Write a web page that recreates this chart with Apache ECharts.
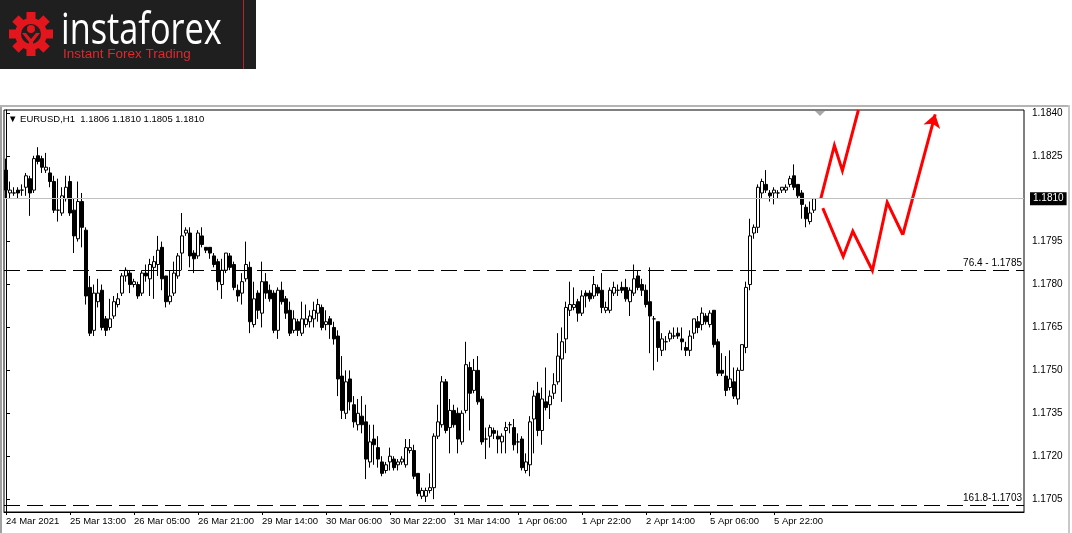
<!DOCTYPE html>
<html><head><meta charset="utf-8">
<script src="https://cdn.jsdelivr.net/npm/echarts@6/dist/echarts.min.js"></script>
<style>html,body{margin:0;padding:0;background:#fff;}#c{width:1072px;height:533px;}</style>
</head><body><div id="c"></div>
<script>
const symbolName = 'EURUSD,H1';
const opens = [
1.1820,1.1812,1.1812,1.1813,1.1813,1.1814,1.1817,1.1813,1.1825,1.1824,
1.1820,1.1819,1.1816,1.1806,1.1805,1.1810,1.1816,1.1806,1.1796,1.1809,
1.1799,1.1779,1.1764,1.1774,1.1778,1.1768,1.1765,1.1769,1.1773,1.1777,
1.1783,1.1784,1.1780,1.1780,1.1777,1.1784,1.1782,1.1786,1.1787,1.1793,
1.1783,1.1774,1.1777,1.1783,1.1791,1.1798,1.1798,1.1791,1.1790,1.1797,
1.1793,1.1793,1.1790,1.1788,1.1780,1.1785,1.1790,1.1787,1.1778,1.1777,
1.1782,1.1786,1.1766,1.1777,1.1770,1.1781,1.1778,1.1777,1.1764,1.1778,
1.1775,1.1771,1.1764,1.1767,1.1763,1.1766,1.1767,1.1768,1.1770,1.1772,
1.1766,1.1768,1.1765,1.1762,1.1748,1.1735,1.1747,1.1738,1.1731,1.1734,
1.1732,1.1718,1.1726,1.1723,1.1718,1.1715,1.1718,1.1719,1.1717,1.1718,
1.1717,1.1722,1.1722,1.1714,1.1706,1.1706,1.1708,1.1709,1.1727,1.1731,
1.1746,1.1730,1.1736,1.1735,1.1725,1.1736,1.1751,1.1743,1.1750,1.1740,
1.1726,1.1727,1.1729,1.1727,1.1725,1.1729,1.1731,1.1730,1.1725,1.1726,
1.1715,1.1717,1.1733,1.1742,1.1729,1.1739,1.1738,1.1742,1.1746,1.1754,
1.1761,1.1771,1.1772,1.1774,1.1770,1.1777,1.1777,1.1776,1.1779,1.1778,
1.1771,1.1771,1.1777,1.1778,1.1779,1.1779,1.1774,1.1777,1.1783,1.1780,
1.1778,1.1774,1.1768,1.1767,1.1757,1.1760,1.1761,1.1762,1.1763,1.1761,
1.1758,1.1757,1.1763,1.1767,1.1766,1.1769,1.1766,1.1771,1.1760,1.1750,
1.1748,1.1744,1.1746,1.1740,1.1750,1.1758,1.1780,1.1798,1.1800,1.1812,
1.1815,1.1812,1.1812,1.1812,1.1813,1.1813,1.1815,1.1818,1.1815,1.1812,
1.1807,1.1802,1.1806];
const highs = [
1.1824,1.1816,1.1814,1.1814,1.1815,1.1819,1.1818,1.1825,1.1828,1.1825,
1.1826,1.1821,1.1818,1.1817,1.1814,1.1818,1.1818,1.1810,1.1816,1.1812,
1.1800,1.1783,1.1780,1.1782,1.1780,1.1769,1.1775,1.1776,1.1777,1.1784,
1.1786,1.1785,1.1782,1.1781,1.1785,1.1787,1.1789,1.1790,1.1797,1.1795,
1.1783,1.1785,1.1788,1.1791,1.1805,1.1800,1.1800,1.1792,1.1799,1.1800,
1.1793,1.1793,1.1791,1.1789,1.1789,1.1791,1.1791,1.1788,1.1780,1.1784,
1.1795,1.1788,1.1781,1.1778,1.1788,1.1784,1.1780,1.1778,1.1779,1.1781,
1.1776,1.1774,1.1771,1.1768,1.1774,1.1773,1.1771,1.1774,1.1775,1.1773,
1.1771,1.1769,1.1767,1.1764,1.1755,1.1750,1.1750,1.1741,1.1740,1.1741,
1.1738,1.1731,1.1731,1.1727,1.1720,1.1718,1.1723,1.1720,1.1719,1.1720,
1.1726,1.1726,1.1724,1.1714,1.1709,1.1709,1.1714,1.1728,1.1738,1.1748,
1.1747,1.1740,1.1738,1.1737,1.1736,1.1760,1.1753,1.1754,1.1755,1.1741,
1.1730,1.1731,1.1730,1.1729,1.1728,1.1732,1.1732,1.1733,1.1728,1.1727,
1.1721,1.1734,1.1743,1.1746,1.1744,1.1751,1.1743,1.1749,1.1763,1.1765,
1.1774,1.1781,1.1779,1.1775,1.1778,1.1778,1.1778,1.1783,1.1780,1.1784,
1.1774,1.1779,1.1781,1.1780,1.1781,1.1782,1.1779,1.1787,1.1785,1.1782,
1.1780,1.1786,1.1769,1.1767,1.1763,1.1762,1.1764,1.1765,1.1765,1.1765,
1.1760,1.1764,1.1768,1.1769,1.1772,1.1770,1.1771,1.1771,1.1761,1.1756,
1.1755,1.1757,1.1751,1.1751,1.1759,1.1781,1.1803,1.1801,1.1815,1.1817,
1.1820,1.1813,1.1814,1.1813,1.1814,1.1815,1.1818,1.1822,1.1815,1.1813,
1.1808,1.1809,1.1810];
const lows = [
1.1810,1.1810,1.1811,1.1810,1.1811,1.1811,1.1804,1.1812,1.1822,1.1819,
1.1819,1.1814,1.1805,1.1802,1.1804,1.1809,1.1804,1.1791,1.1795,1.1793,
1.1773,1.1762,1.1762,1.1772,1.1764,1.1762,1.1764,1.1768,1.1772,1.1776,
1.1781,1.1777,1.1779,1.1775,1.1776,1.1781,1.1776,1.1775,1.1783,1.1778,
1.1772,1.1773,1.1776,1.1782,1.1785,1.1797,1.1786,1.1784,1.1789,1.1793,
1.1791,1.1789,1.1786,1.1778,1.1775,1.1784,1.1785,1.1778,1.1774,1.1773,
1.1781,1.1763,1.1765,1.1768,1.1765,1.1775,1.1774,1.1763,1.1761,1.1773,
1.1768,1.1762,1.1763,1.1762,1.1762,1.1765,1.1765,1.1765,1.1767,1.1764,
1.1764,1.1761,1.1759,1.1741,1.1733,1.1733,1.1736,1.1730,1.1729,1.1728,
1.1712,1.1716,1.1717,1.1716,1.1713,1.1714,1.1715,1.1715,1.1715,1.1717,
1.1716,1.1721,1.1712,1.1706,1.1705,1.1704,1.1707,1.1705,1.1726,1.1730,
1.1728,1.1721,1.1730,1.1721,1.1724,1.1735,1.1729,1.1742,1.1738,1.1724,
1.1719,1.1723,1.1726,1.1721,1.1721,1.1721,1.1728,1.1722,1.1721,1.1715,
1.1714,1.1713,1.1721,1.1727,1.1724,1.1736,1.1733,1.1740,1.1745,1.1739,
1.1756,1.1769,1.1771,1.1767,1.1769,1.1772,1.1774,1.1775,1.1776,1.1770,
1.1770,1.1770,1.1776,1.1776,1.1777,1.1774,1.1769,1.1776,1.1778,1.1776,
1.1772,1.1756,1.1750,1.1753,1.1755,1.1757,1.1760,1.1761,1.1761,1.1757,
1.1755,1.1755,1.1761,1.1763,1.1764,1.1766,1.1765,1.1758,1.1748,1.1748,
1.1741,1.1743,1.1740,1.1738,1.1750,1.1756,1.1778,1.1796,1.1798,1.1810,
1.1812,1.1809,1.1808,1.1810,1.1812,1.1812,1.1814,1.1813,1.1810,1.1803,
1.1800,1.1801,1.1805];
const closes = [
1.1813,1.1813,1.1812,1.1812,1.1813,1.1818,1.1812,1.1824,1.1823,1.1821,
1.1821,1.1816,1.1806,1.1806,1.1811,1.1814,1.1805,1.1797,1.1809,1.1800,
1.1776,1.1763,1.1777,1.1777,1.1765,1.1764,1.1768,1.1774,1.1775,1.1783,
1.1785,1.1780,1.1781,1.1776,1.1784,1.1783,1.1787,1.1788,1.1792,1.1782,
1.1774,1.1776,1.1784,1.1790,1.1797,1.1799,1.1790,1.1789,1.1798,1.1794,
1.1792,1.1791,1.1787,1.1781,1.1785,1.1791,1.1786,1.1779,1.1776,1.1781,
1.1787,1.1767,1.1775,1.1771,1.1781,1.1777,1.1775,1.1764,1.1778,1.1774,
1.1770,1.1763,1.1768,1.1764,1.1768,1.1768,1.1769,1.1771,1.1773,1.1765,
1.1767,1.1766,1.1761,1.1747,1.1736,1.1746,1.1739,1.1732,1.1735,1.1731,
1.1719,1.1725,1.1724,1.1719,1.1714,1.1717,1.1720,1.1716,1.1718,1.1719,
1.1723,1.1723,1.1713,1.1707,1.1708,1.1708,1.1709,1.1727,1.1732,1.1746,
1.1729,1.1736,1.1731,1.1726,1.1735,1.1752,1.1742,1.1750,1.1739,1.1725,
1.1726,1.1730,1.1728,1.1726,1.1727,1.1730,1.1731,1.1724,1.1725,1.1716,
1.1718,1.1732,1.1741,1.1729,1.1740,1.1737,1.1741,1.1745,1.1755,1.1760,
1.1772,1.1773,1.1773,1.1770,1.1776,1.1776,1.1775,1.1780,1.1777,1.1772,
1.1772,1.1778,1.1779,1.1778,1.1778,1.1775,1.1778,1.1782,1.1779,1.1778,
1.1773,1.1769,1.1768,1.1758,1.1761,1.1760,1.1763,1.1762,1.1762,1.1760,
1.1757,1.1762,1.1768,1.1765,1.1770,1.1767,1.1770,1.1759,1.1749,1.1749,
1.1743,1.1747,1.1741,1.1750,1.1759,1.1779,1.1797,1.1800,1.1814,1.1816,
1.1813,1.1811,1.1813,1.1812,1.1814,1.1814,1.1817,1.1814,1.1811,1.1808,
1.1803,1.1805,1.1810];
const xTickLabels = ['24 Mar 2021','25 Mar 13:00','26 Mar 05:00','26 Mar 21:00','29 Mar 14:00','30 Mar 06:00','30 Mar 22:00','31 Mar 14:00','1 Apr 06:00','1 Apr 22:00','2 Apr 14:00','5 Apr 06:00','5 Apr 22:00'];
const barsPerXTick = 16;
const totalSlots = 255;
const yTickValues = [1.1705,1.1720,1.1735,1.1750,1.1765,1.1780,1.1795,1.1810,1.1825,1.1840];
const fiboLevels = [{value:1.1785, label:'76.4 - 1.1785'},{value:1.1703, label:'161.8-1.1703'}];
const forecastUp = [[203.7,1.18100],[207.1,1.18286],[209.1,1.18198],[213.1,1.18410]];
const forecastDown = [[204.2,1.18067],[209.3,1.17898],[211.7,1.17986],[216.6,1.17849],[220.3,1.18087],[224.2,1.17974],[232.3,1.18395]];

const last = closes.length - 1;
const chart = echarts.init(document.getElementById('c'), null, {renderer:'canvas'});
const FONT = 'Liberation Sans, DejaVu Sans, sans-serif';
const tickShown = i => i % barsPerXTick === 0 && i / barsPerXTick < xTickLabels.length;

const gear = [];
for (let k = 0; k < 8; k++) {
  gear.push({type:'rect', x:31, y:34, rotation:k*Math.PI/4, shape:{x:-4.5,y:-22,width:9,height:10}, style:{fill:'#e3161d'}});
}
const downHead = forecastDown.slice(0, forecastDown.length - 1);
const downTail = forecastDown.slice(forecastDown.length - 2);

chart.setOption({
  animation:false,
  backgroundColor:'#fff',
  grid:{left:4, right:48, top:110, bottom:21, show:true, borderColor:'#000', borderWidth:1, backgroundColor:'#fff'},
  xAxis:[{
    type:'category', data:Array.from({length:totalSlots},(_, i)=>i), boundaryGap:true,
    axisLine:{show:true, lineStyle:{color:'#000', width:1}},
    axisTick:{show:true, alignWithLabel:true, interval:(i)=>tickShown(i), length:3, lineStyle:{color:'#000'}},
    axisLabel:{interval:(i)=>tickShown(i), formatter:(v)=>xTickLabels[Number(v)/barsPerXTick]||'', align:'left', margin:4, color:'#000', fontSize:9.5, fontFamily:FONT},
    splitLine:{show:false}
  },{
    type:'value', min:-0.5, max:totalSlots-0.5, show:false
  }],
  yAxis:[{
    type:'value', position:'right', min:1.17005, max:1.18410,
    axisLine:{show:true, lineStyle:{color:'#000'}},
    axisTick:{show:true, customValues:yTickValues, length:4, lineStyle:{color:'#000'}},
    axisLabel:{customValues:yTickValues, formatter:(v)=>v.toFixed(4), color:'#000', fontSize:10, fontFamily:FONT, margin:8},
    splitLine:{show:false}
  }],
  series:[{
    type:'line', xAxisIndex:1, yAxisIndex:0, data:[[0, closes[last]]], symbol:'none', lineStyle:{opacity:0}, silent:true, z:1,
    markLine:{
      silent:true, symbol:'none', animation:false, precision:4,
      data:[
        {yAxis:closes[last], lineStyle:{color:'#c0c0c0', type:'solid', width:1},
         label:{show:true, position:'end', distance:6, formatter:closes[last].toFixed(4), backgroundColor:'#000', color:'#fff', padding:[2,3,1,3], fontSize:10, fontFamily:FONT}},
        ...fiboLevels.map(f=>({yAxis:f.value, lineStyle:{color:'#000', type:[16,7], width:1},
          label:{show:true, position:'insideEndTop', distance:2, formatter:f.label, color:'#000', fontSize:10, fontFamily:FONT}}))
      ]
    }
  },{
    type:'candlestick', xAxisIndex:0, yAxisIndex:0, z:3,
    data:opens.map((o,i)=>[o, closes[i], lows[i], highs[i]]),
    barWidth:3,
    itemStyle:{color:'#fff', color0:'#000', borderColor:'#000', borderColor0:'#000', borderWidth:1}
  },{
    type:'lines', coordinateSystem:'cartesian2d', xAxisIndex:1, yAxisIndex:0, polyline:true, clip:true, z:4,
    symbol:['none','none'], lineStyle:{color:'#ff0000', width:3, opacity:1}, silent:true,
    data:[{coords:forecastUp},{coords:downHead}]
  },{
    type:'lines', coordinateSystem:'cartesian2d', xAxisIndex:1, yAxisIndex:0, polyline:false, clip:false, z:4,
    symbol:['none','arrow'], symbolSize:[11,13], lineStyle:{color:'#ff0000', width:3, opacity:1}, silent:true,
    data:[{coords:downTail}]
  }],
  graphic:[
    {type:'rect', shape:{x:0,y:0,width:256,height:69}, style:{fill:'#1f1f1f'}},
    {type:'rect', shape:{x:243,y:0,width:1,height:69}, style:{fill:'#b3262b'}},
    ...gear,
    {type:'circle', shape:{cx:31,cy:34,r:16}, style:{fill:'#e3161d'}},
    {type:'circle', shape:{cx:31,cy:34,r:10}, style:{fill:'#1f1f1f'}},
    {type:'circle', shape:{cx:31,cy:29,r:4}, style:{fill:'#e3161d'}},
    {type:'polygon', shape:{points:[[22,33],[26,33],[31,39],[36,33],[40,33],[33,42],[33,50],[29,50],[29,42]]}, style:{fill:'#e3161d'}},
    {type:'text', x:61, y:9, scaleX:0.78, style:{text:'instaforex', fill:'#ffffff', font:'normal 44px "Open Sans", "Lato", sans-serif'}},
    {type:'text', x:63, y:47, style:{text:'Instant Forex Trading', fill:'#e3262b', font:'13.5px "Liberation Sans", sans-serif'}},
    {type:'rect', shape:{x:0,y:105,width:1070,height:2}, style:{fill:'#b4b4b4'}},
    {type:'rect', shape:{x:0,y:107,width:2,height:426}, style:{fill:'#a0a0a0'}},
    {type:'rect', shape:{x:1068,y:105,width:2,height:428}, style:{fill:'#c8c8c8'}},
    {type:'polygon', shape:{points:[[815,111],[825,111],[820,116]]}, style:{fill:'#a8a8a8'}},
    {type:'text', x:8, y:114, style:{text:'\u25BC ' + symbolName + '  ' + [opens[last],highs[last],lows[last],closes[last]].map(v=>v.toFixed(4)).join(' '), fill:'#000', font:'9.5px "Liberation Sans", "DejaVu Sans", sans-serif'}}
  ]
});
</script></body></html>
